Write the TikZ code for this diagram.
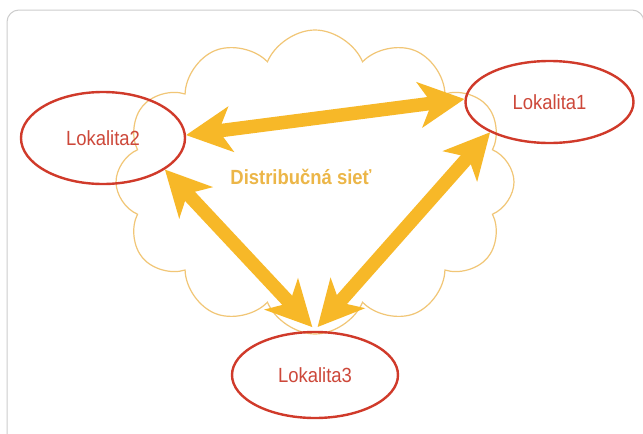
\documentclass[tikz,border=0pt]{standalone}
\usepackage{fontspec}
\setmainfont{Liberation Sans}
\newfontfamily\narrowfont[FakeStretch=0.9]{Liberation Sans}
\usepackage{tikz}
\usetikzlibrary{shapes.geometric,shapes.symbols,arrows.meta}
\definecolor{framegray}{RGB}{205,205,205}
\definecolor{siteborder}{RGB}{208,58,42}
\definecolor{sitetext}{RGB}{205,72,58}
\definecolor{netorange}{RGB}{247,184,40}
\definecolor{cloudline}{RGB}{241,198,118}
\definecolor{nettext}{RGB}{236,182,72}
\tikzset{>={Stealth[length=45pt,width=45pt,inset=12pt]}}
\tikzset{
  site/.style={
    ellipse, draw=siteborder, line width=2.4pt,
    minimum width=166pt, minimum height=86pt, inner sep=0pt,
    text=sitetext, font=\narrowfont\fontsize{20.5}{22}\selectfont}}
\tikzset{
  link/.style={<->, netorange, line width=13.5pt}}

\begin{document}
\begin{tikzpicture}[x=1pt,y=-1pt]
    \useasboundingbox (0,0) rectangle (643,434);
    \fill[white] (0,0) rectangle (643,434);
    \draw[framegray,line width=1pt,rounded corners=12pt]
	(7,460) |- (644,10) -- (644,460);
    \begin{scope}
    \node[cloud,cloud puffs=12,cloud puff arc=135,cloud ignores aspect,
	draw=cloudline,line width=1.2pt,minimum width=398pt,
	minimum height=304pt,inner sep=0pt] (net) at (315,182) {};
    \end{scope}
    \node[site,minimum width=168pt,minimum height=82pt](L1) at (549.5,102) {Lokalita1};
    \node[site,minimum width=164pt,minimum height=92pt](L2) at (103,138) {Lokalita2};
    \node[site](L3) at (315,375) {Lokalita3};
    \node[text=nettext,font=\narrowfont\bfseries\fontsize{20.5}{22}\selectfont]
	(netlabel) at (301,177) {Distribučná sieť};
    \draw[link] (L2.2) -- (L1.178);
    \draw[link,shorten >=5pt] (L2.333) -- (L3.89);
    \draw[link,shorten >=5pt] (L1.207) -- (L3.91);
\end{tikzpicture}
\end{document}
